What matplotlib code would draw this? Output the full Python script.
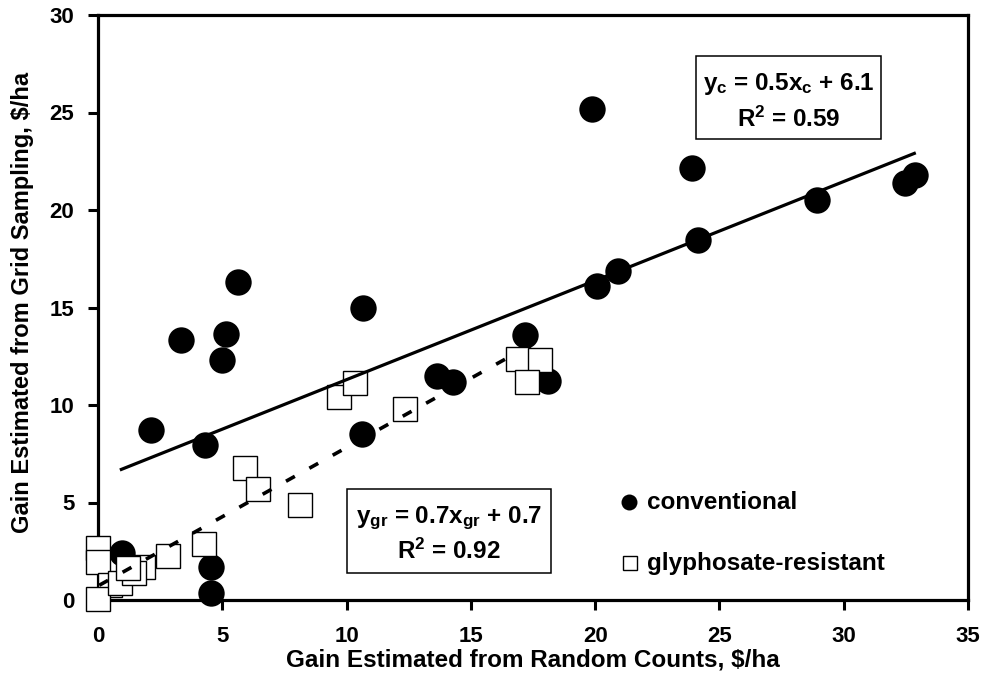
import numpy as np
import matplotlib
matplotlib.use("Agg")
import matplotlib.pyplot as plt
from matplotlib.patches import Rectangle
from matplotlib.lines import Line2D

plt.rcParams['font.family'] = ['Liberation Sans', 'DejaVu Sans']
plt.rcParams['font.weight'] = 'bold'
plt.rcParams['mathtext.fontset'] = 'custom'
plt.rcParams['mathtext.rm'] = 'Liberation Sans:bold'
plt.rcParams['mathtext.it'] = 'Liberation Sans:bold'
plt.rcParams['mathtext.bf'] = 'Liberation Sans:bold'

# ---- data ----
conv_x = [2.12, 3.34, 4.30, 5.14, 5.00, 5.62, 10.67, 10.62, 13.65, 14.27, 17.18, 18.11,
          19.87, 20.07, 20.92, 23.90, 24.14, 28.92, 32.46, 32.86, 0.95, 4.53, 4.53]
conv_y = [8.73, 13.35, 7.93, 13.66, 12.29, 16.32, 14.98, 8.53, 11.47, 11.16, 13.58, 11.21,
          25.18, 16.10, 16.87, 22.15, 18.46, 20.50, 21.38, 21.80, 2.43, 1.68, 0.34]

gr_x = [9.69, 10.34, 12.35, 16.89, 17.78, 17.26, 5.91, 6.44, 8.13,
        0.00, 0.00, 0.48, 0.00, 0.90, 1.80, 1.44, 1.19, 2.82, 4.25]
gr_y = [10.41, 11.13, 9.79, 12.36, 12.31, 11.18, 6.77, 5.69, 4.87,
        2.69, 1.95, 0.77, 0.07, 0.86, 1.71, 1.40, 1.64, 2.24, 2.86]

# trend lines: slope, intercept, x start, x end
fit_conv = [0.508, 6.22, 0.88, 32.9]
fit_gr = [0.71, 0.72, 0.05, 16.7]

eq_conv = [r'y$_{\mathrm{c}}$ = 0.5x$_{\mathrm{c}}$ + 6.1', r'R$^{\mathrm{2}}$ = 0.59']
eq_gr = [r'y$_{\mathrm{gr}}$ = 0.7x$_{\mathrm{gr}}$ + 0.7', r'R$^{\mathrm{2}}$ = 0.92']
legend_labels = ['conventional', 'glyphosate-resistant']

x_ticks = [0, 5, 10, 15, 20, 25, 30, 35]
y_ticks = [0, 5, 10, 15, 20, 25, 30]
x_label = 'Gain Estimated from Random Counts, $/ha'
y_label = 'Gain Estimated from Grid Sampling, $/ha'

# ---- figure ----
W, H = 984, 681
fig = plt.figure(figsize=(W / 100, H / 100), dpi=100)
ax = fig.add_axes([98 / W, 1 - 600 / H, 870 / W, 585 / H])

ax.plot(conv_x, conv_y, linestyle='none', marker='o', ms=19, mfc='black', mec='black',
        mew=0, zorder=2, clip_on=False)
ax.plot(gr_x, gr_y, linestyle='none', marker='s', ms=17.7, mfc='white', mec='black',
        mew=1.0, zorder=3, clip_on=False)

xc = np.array(fit_conv[2:4])
ax.plot(xc, fit_conv[0] * xc + fit_conv[1], color='black', lw=2.3, zorder=4,
        solid_capstyle='butt')
xg = np.array(fit_gr[2:4])
ax.plot(xg, fit_gr[0] * xg + fit_gr[1], color='black', lw=2.6, zorder=4,
        linestyle=(0, (2.8, 4.6)), dash_capstyle='butt')

ax.set_xlim(0, 35)
ax.set_ylim(0, 30)
ax.set_xticks(x_ticks)
ax.set_yticks(y_ticks)
ax.set_xticklabels([str(t) for t in x_ticks])
ax.set_yticklabels([str(t) for t in y_ticks])
for s in ax.spines.values():
    s.set_linewidth(2.3)
    s.set_zorder(2.5)
ax.tick_params(axis='both', direction='out', length=7, width=2.2, labelsize=16)
ax.tick_params(axis='x', pad=12)
ax.tick_params(axis='y', pad=10)
for lab in ax.get_xticklabels() + ax.get_yticklabels():
    lab.set_fontweight('bold')

ax.set_xlabel(x_label, fontsize=17.5, fontweight='bold')
ax.xaxis.label.set_va('baseline')
ax.xaxis.set_label_coords(0.5, (600 - 667) / 585)
ax.set_ylabel(y_label, fontsize=17, fontweight='bold')
ax.yaxis.label.set_va('baseline')
ax.yaxis.set_label_coords((29.5 - 98) / 870, (600 - 302.5) / 585)

# equation boxes
def eq_box(x0, y0, x1, y1, lines, baselines):
    fig.add_artist(Rectangle((x0 / W, 1 - y1 / H), (x1 - x0) / W, (y1 - y0) / H,
                             transform=fig.transFigure, fill=True, facecolor='white',
                             edgecolor='black', lw=1.1, zorder=5))
    cx = (x0 + x1) / 2 / W
    for txt, b in zip(lines, baselines):
        fig.text(cx, 1 - b / H, txt, ha='center', va='baseline', fontsize=17.5,
                 fontweight='bold', zorder=6)

eq_box(696, 55.7, 881, 139.3, eq_conv, [90, 126.7])
eq_box(346.7, 489, 551, 573.3, eq_gr, [523.3, 559.3])

# legend (manual)
fig.add_artist(Line2D([629 / W], [1 - 501.7 / H], marker='o', ms=11.5, mfc='black',
                      mec='black', mew=0, linestyle='none', transform=fig.transFigure))
fig.add_artist(Line2D([630 / W], [1 - 563.3 / H], marker='s', ms=10, mfc='white',
                      mec='black', mew=1.0, linestyle='none', transform=fig.transFigure))
fig.text(646.7 / W, 1 - 509.3 / H, legend_labels[0], ha='left', va='baseline',
         fontsize=17.5, fontweight='bold')
fig.text(646.7 / W, 1 - 570 / H, legend_labels[1], ha='left', va='baseline',
         fontsize=17.5, fontweight='bold')

fig.savefig('out.png', dpi=100)
